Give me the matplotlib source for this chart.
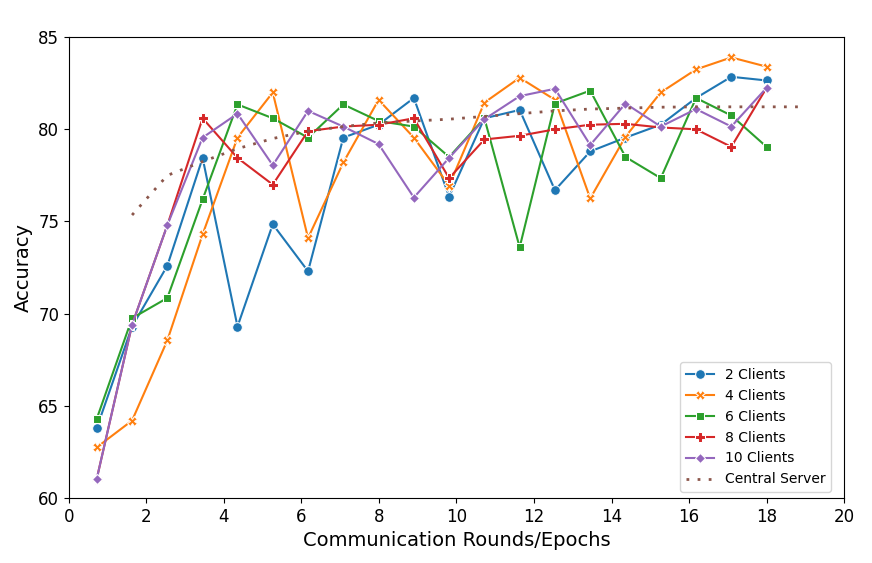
import matplotlib
matplotlib.use("Agg")
import matplotlib.pyplot as plt

rounds = [0.72, 1.63, 2.54, 3.45, 4.35, 5.26, 6.17, 7.08, 7.99, 8.90,
          9.81, 10.72, 11.63, 12.54, 13.45, 14.36, 15.27, 16.18, 17.09, 18.00]
server_rounds = [1.63, 2.54, 3.45, 4.35, 5.26, 6.17, 7.08, 7.99, 8.90, 9.81,
                 10.72, 11.63, 12.54, 13.45, 14.36, 15.27, 16.18, 17.09, 18.00, 18.91]

clients_2 = [63.8, 69.3, 72.6, 78.45, 69.3, 74.85, 72.3, 79.55, 80.25, 81.7,
             76.35, 80.6, 81.05, 76.7, 78.8, 79.55, 80.25, 81.7, 82.85, 82.65]
clients_4 = [62.75, 64.2, 68.55, 74.3, 79.55, 82.0, 74.1, 78.2, 81.6, 79.55,
             76.95, 81.45, 82.8, 81.6, 76.25, 79.6, 82.0, 83.25, 83.9, 83.4]
clients_6 = [64.3, 69.75, 70.85, 76.2, 81.35, 80.6, 79.55, 81.35, 80.45, 80.15,
             78.5, 80.6, 73.6, 81.4, 82.1, 78.5, 77.35, 81.7, 80.75, 79.05]
clients_8 = [61.05, 69.4, 74.8, 80.6, 78.45, 77.0, 79.9, 80.15, 80.25, 80.6,
             77.35, 79.45, 79.65, 80.0, 80.25, 80.3, 80.1, 80.0, 79.05, 82.25]
clients_10 = [61.05, 69.4, 74.8, 79.55, 80.85, 78.05, 81.0, 80.15, 79.2, 76.3,
              78.45, 80.55, 81.8, 82.2, 79.15, 81.4, 80.15, 81.1, 80.15, 82.25]
central_server = [75.35, 77.5, 78.25, 78.95, 79.5, 79.9, 80.15, 80.35, 80.45, 80.55,
                  80.7, 80.85, 81.0, 81.1, 81.15, 81.2, 81.22, 81.22, 81.22, 81.22]

labels = ["2 Clients", "4 Clients", "6 Clients", "8 Clients", "10 Clients"]
series = [clients_2, clients_4, clients_6, clients_8, clients_10]
colors = ["#1f77b4", "#ff7f0e", "#2ca02c", "#d62728", "#9467bd"]
markers = ["o", "X", "s", "P", "D"]
sizes = [7, 7, 5.5, 7, 5]

fig = plt.figure(figsize=(8.72, 5.63), dpi=100)
ax = fig.add_axes([0.079, 0.1155, 0.889, 0.8185])

for ys, lab, c, m, s in zip(series, labels, colors, markers, sizes):
    ax.plot(rounds, ys, color=c, marker=m, markersize=s, linewidth=1.5,
            markeredgecolor="white", markeredgewidth=0.75, label=lab)

ax.plot(server_rounds, central_server, color="#8c564b", linestyle=(0, (1, 3)),
        linewidth=2, label="Central Server")

ax.set_xlim(0, 20)
ax.set_ylim(60, 85)
ax.set_xticks([0, 2, 4, 6, 8, 10, 12, 14, 16, 18, 20])
ax.set_yticks([60, 65, 70, 75, 80, 85])
ax.tick_params(labelsize=12)
ax.set_xlabel("Communication Rounds/Epochs", fontsize=14)
ax.set_ylabel("Accuracy", fontsize=14)
ax.legend(loc="lower right", fontsize=10, bbox_to_anchor=(0.992, -0.002))

fig.savefig("out.png", dpi=100)
